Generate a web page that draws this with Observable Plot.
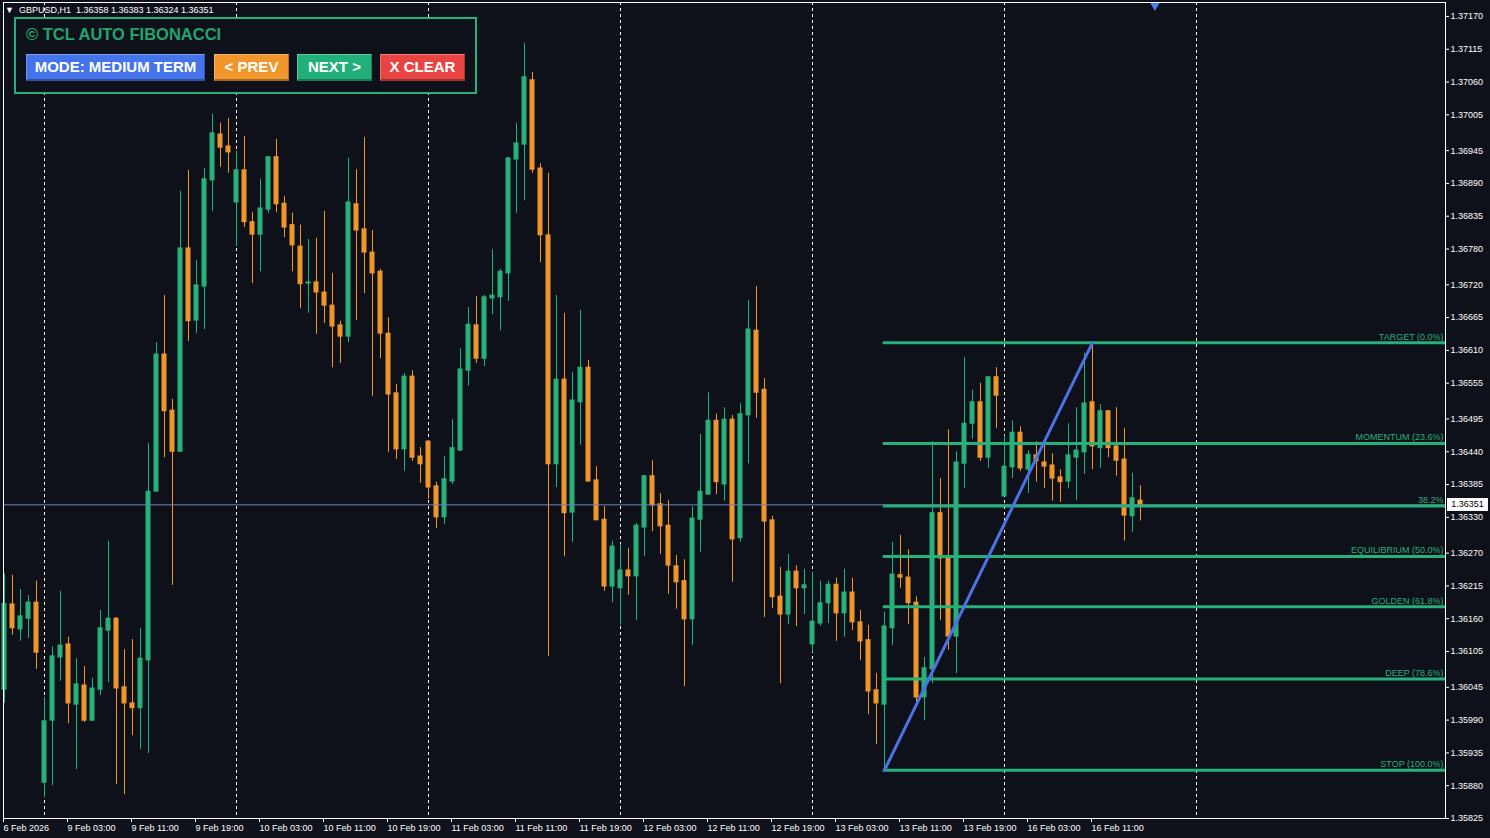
<!DOCTYPE html>
<html><head><meta charset="utf-8">
<script src="https://cdn.jsdelivr.net/npm/d3@7"></script>
<script src="https://cdn.jsdelivr.net/npm/@observablehq/plot@0.6"></script>
<style>
html,body{margin:0;padding:0;background:#0f111a;overflow:hidden}
#wrap{position:relative;width:1490px;height:838px;font-family:"Liberation Sans",Arial,sans-serif}
#wrap svg{position:absolute;left:0;top:0}
.hdr{position:absolute;left:5px;top:4px;color:#fff;font-size:9px;white-space:pre;line-height:13px}
.panel{position:absolute;left:14px;top:17px;width:463px;height:77px;box-sizing:border-box;border:2px solid #26b07a;background:#0f111a}
.ptitle{position:absolute;left:26px;top:25px;color:#23a46f;font-weight:bold;font-size:16.5px;line-height:19px;white-space:nowrap}
.btn{position:absolute;top:54px;height:27px;box-sizing:border-box;color:#fff;font-weight:bold;font-size:15px;line-height:24px;text-align:center;white-space:nowrap;border-top:1px solid rgba(255,255,255,0.3);border-left:1px solid rgba(255,255,255,0.25);border-bottom:2px solid rgba(0,0,0,0.3);border-right:1px solid rgba(0,0,0,0.25)}
.pricebox{position:absolute;left:1447px;width:41px;height:13px;background:#fff;color:#000;font-size:9px;line-height:13px;text-align:center}
</style></head><body><div id="wrap"></div>
<script>
// ---- data (GBPUSD H1, 6 Feb 19:00 .. 16 Feb 17:00) ----
const symbol = "GBPUSD", timeframe = "H1";
const opens = [1.36041,1.36184,1.36142,1.36160,1.36187,1.35885,1.35989,1.36095,1.36117,1.36016,
1.36048,1.35989,1.36041,1.36140,1.36160,1.36045,1.36018,1.36010,1.36090,1.36373,
1.36603,1.36509,1.36440,1.36781,1.36660,1.36717,1.36895,1.36972,1.36952,1.36858,
1.36912,1.36825,1.36804,1.36846,1.36934,1.36856,1.36820,1.36784,1.36722,1.36724,
1.36707,1.36685,1.36652,1.36633,1.36855,1.36813,1.36774,1.36742,1.36638,1.36538,
1.36444,1.36566,1.36432,1.36457,1.36382,1.36330,1.36390,1.36442,1.36576,1.36652,
1.36596,1.36697,1.36699,1.36739,1.36930,1.36955,1.37063,1.36915,1.36803,1.36419,
1.36561,1.36338,1.36523,1.36581,1.36392,1.36326,1.36214,1.36211,1.36241,1.36231,
1.36313,1.36399,1.36352,1.36316,1.36248,1.36223,1.36159,1.36326,1.36368,1.36492,
1.36385,1.36494,1.36295,1.36501,1.36643,1.36544,1.36325,1.36197,1.36167,1.36239,
1.36211,1.36117,1.36152,1.36186,1.36217,1.36169,1.36204,1.36154,1.36124,1.36040,
1.36016,1.36144,1.36233,1.36229,1.36187,1.36028,1.36075,1.36337,1.36264,1.36130,
1.36420,1.36487,1.36523,1.36430,1.36565,1.36365,1.36414,1.36472,1.36410,1.36434,
1.36422,1.36417,1.36397,1.36390,1.36430,1.36439,1.36523,1.36446,1.36508,1.36449,
1.36427,1.36332,1.36358];
const highs = [1.36235,1.36233,1.36209,1.36199,1.36223,1.36028,1.36113,1.36206,1.36129,1.36093,
1.36080,1.36060,1.36174,1.36290,1.36162,1.36108,1.36125,1.36144,1.36454,1.36623,
1.36702,1.36528,1.36877,1.36912,1.36761,1.36915,1.37006,1.36991,1.36999,1.36944,
1.36969,1.36841,1.36897,1.36934,1.36964,1.36868,1.36840,1.36820,1.36796,1.36798,
1.36843,1.36739,1.36659,1.36932,1.36913,1.36967,1.36811,1.36746,1.36665,1.36553,
1.36571,1.36576,1.36447,1.36459,1.36389,1.36432,1.36494,1.36613,1.36682,1.36700,
1.36702,1.36779,1.36746,1.36934,1.36991,1.37125,1.37076,1.36923,1.36907,1.36702,
1.36672,1.36573,1.36677,1.36593,1.36415,1.36348,1.36290,1.36284,1.36278,1.36320,
1.36400,1.36425,1.36370,1.36358,1.36266,1.36259,1.36348,1.36469,1.36539,1.36503,
1.36514,1.36501,1.36521,1.36694,1.36717,1.36563,1.36332,1.36246,1.36268,1.36249,
1.36243,1.36238,1.36223,1.36223,1.36228,1.36243,1.36228,1.36174,1.36149,1.36068,
1.36171,1.36288,1.36300,1.36276,1.36197,1.36095,1.36457,1.36395,1.36477,1.36440,
1.36598,1.36543,1.36555,1.36565,1.36581,1.36467,1.36492,1.36482,1.36442,1.36457,
1.36452,1.36437,1.36410,1.36487,1.36514,1.36605,1.36623,1.36519,1.36509,1.36514,
1.36479,1.36404,1.36383];
const lows = [1.36018,1.36132,1.36122,1.36127,1.36075,1.35860,1.35880,1.36055,1.35984,1.35907,
1.35986,1.35988,1.36031,1.36053,1.35882,1.35865,1.35964,1.35941,1.35934,1.36373,
1.36430,1.36216,1.36439,1.36625,1.36638,1.36645,1.36843,1.36917,1.36907,1.36784,
1.36816,1.36722,1.36742,1.36840,1.36841,1.36799,1.36742,1.36680,1.36672,1.36637,
1.36655,1.36581,1.36588,1.36623,1.36660,1.36705,1.36533,1.36596,1.36439,1.36427,
1.36407,1.36424,1.36387,1.36360,1.36311,1.36318,1.36385,1.36440,1.36550,1.36588,
1.36583,1.36670,1.36643,1.36692,1.36840,1.36861,1.36907,1.36757,1.36097,1.36380,
1.36264,1.36288,1.36451,1.36390,1.36325,1.36206,1.36187,1.36149,1.36199,1.36157,
1.36264,1.36306,1.36268,1.36201,1.36176,1.36046,1.36115,1.36271,1.36368,1.36368,
1.36357,1.36221,1.36288,1.36420,1.36496,1.36162,1.36177,1.36051,1.36150,1.36147,
1.36167,1.36103,1.36147,1.36152,1.36122,1.36129,1.36140,1.36090,1.35999,1.35949,
1.35906,1.36115,1.36211,1.36150,1.36011,1.35989,1.36051,1.36157,1.36107,1.36068,
1.36378,1.36461,1.36424,1.36412,1.36479,1.36365,1.36395,1.36407,1.36370,1.36389,
1.36378,1.36357,1.36355,1.36378,1.36358,1.36402,1.36410,1.36412,1.36430,1.36399,
1.36290,1.36305,1.36324];
const closes = [1.36185,1.36144,1.36164,1.36187,1.36103,1.35988,1.36097,1.36115,1.36018,1.36050,
1.35989,1.36043,1.36144,1.36160,1.36043,1.36018,1.36010,1.36093,1.36373,1.36603,
1.36508,1.36440,1.36781,1.36659,1.36719,1.36897,1.36974,1.36950,1.36942,1.36912,
1.36825,1.36804,1.36848,1.36934,1.36855,1.36816,1.36786,1.36721,1.36724,1.36707,
1.36685,1.36650,1.36633,1.36858,1.36811,1.36774,1.36739,1.36638,1.36536,1.36444,
1.36566,1.36430,1.36419,1.36380,1.36330,1.36394,1.36446,1.36578,1.36653,1.36596,
1.36699,1.36702,1.36742,1.36932,1.36957,1.37068,1.36913,1.36803,1.36419,1.36561,
1.36337,1.36526,1.36581,1.36390,1.36325,1.36214,1.36281,1.36241,1.36231,1.36316,
1.36399,1.36350,1.36315,1.36249,1.36221,1.36159,1.36328,1.36373,1.36492,1.36389,
1.36494,1.36293,1.36503,1.36645,1.36539,1.36323,1.36196,1.36167,1.36239,1.36211,
1.36216,1.36155,1.36186,1.36217,1.36169,1.36204,1.36154,1.36122,1.36038,1.36018,
1.36147,1.36234,1.36229,1.36186,1.36028,1.36077,1.36337,1.36261,1.36130,1.36422,
1.36487,1.36523,1.36430,1.36565,1.36534,1.36415,1.36472,1.36412,1.36435,1.36424,
1.36415,1.36395,1.36389,1.36434,1.36442,1.36521,1.36449,1.36508,1.36446,1.36425,
1.36333,1.36362,1.36351];

// time axis labels (bar index of each label) and day separators
const timeLabelIndex = [0,8,16,24,32,40,48,56,64,72,80,88,96,104,112,120,128,136];
const timeLabels = ["6 Feb 2026","9 Feb 03:00","9 Feb 11:00","9 Feb 19:00","10 Feb 03:00","10 Feb 11:00",
  "10 Feb 19:00","11 Feb 03:00","11 Feb 11:00","11 Feb 19:00","12 Feb 03:00","12 Feb 11:00",
  "12 Feb 19:00","13 Feb 03:00","13 Feb 11:00","13 Feb 19:00","16 Feb 03:00","16 Feb 11:00"];
const dayStartIndex = [5,29,53,77,101,125,149];

// price axis ticks
const priceTicks = [1.37170,1.37115,1.37060,1.37005,1.36945,1.36890,1.36835,1.36780,1.36720,1.36665,
  1.36610,1.36555,1.36495,1.36440,1.36385,1.36330,1.36270,1.36215,1.36160,1.36105,1.36045,
  1.35990,1.35935,1.35880,1.35825];

// auto fibonacci swing
const swingLowIndex = 110, swingLowPrice = 1.35906;
const swingHighIndex = 136, swingHighPrice = 1.36623;
const fibNames = ["TARGET (0.0%)","MOMENTUM (23.6%)","38.2%","EQUILIBRIUM (50.0%)","GOLDEN (61.8%)","DEEP (78.6%)","STOP (100.0%)"];
const fibPrices = [1.36623,1.36454,1.36349,1.362645,1.36180,1.36059,1.35906];

const shiftMarkerIndex = 143.8;
const buttons = [
  {label:"MODE: MEDIUM TERM", color:"#4473ea", left:26, width:179},
  {label:"< PREV", color:"#f0962a", left:214, width:75},
  {label:"NEXT >", color:"#22b07a", left:297, width:75},
  {label:"X CLEAR", color:"#e84444", left:380, width:85}
];

// ---- build ----
const GREEN = "#26b07a", ORANGE = "#f0962a", BLUE = "#4b72e6";
const candles = opens.map((o, i) => ({i, open:o, high:highs[i], low:lows[i], close:closes[i]}));
const col = d => d.close >= d.open ? GREEN : ORANGE;
const fib = fibPrices.map((p, k) => ({price:p, label:fibNames[k]}));
const swing = [{i:swingLowIndex, p:swingLowPrice}, {i:swingHighIndex, p:swingHighPrice}];
const last = candles[candles.length - 1];
const labelMap = new Map(timeLabelIndex.map((d, k) => [d, timeLabels[k]]));

const chart = Plot.plot({
  width:1490, height:838,
  marginLeft:3, marginRight:45, marginTop:2, marginBottom:20,
  style:{background:"#0f111a", color:"#ffffff", fontFamily:"Liberation Sans, Arial, sans-serif", fontSize:"9px", overflow:"visible"},
  x:{type:"linear", domain:[-0.125, 180.125], label:null},
  y:{domain:[1.35825, 1.371934], label:null},
  marks:[
    Plot.ruleX(dayStartIndex, {x:d=>d, stroke:"#ffffff", strokeWidth:1, strokeDasharray:"3,3"}),
    Plot.ruleX(candles, {x:"i", y1:"low", y2:"high", stroke:col, strokeWidth:1}),
    Plot.rect(candles, {x1:d=>d.i-0.3125, x2:d=>d.i+0.3125,
      y1:d=>Math.min(d.open,d.close), y2:d=>Math.max(d.open,d.close),
      fill:col, insetTop:-0.5, insetBottom:-0.5}),
    Plot.ruleY([last.close], {y:d=>d, stroke:"#7080b8", strokeWidth:1}),
    Plot.ruleY(fib, {y:"price", x1:swingLowIndex-0.15, x2:180.125, stroke:GREEN, strokeWidth:3}),
    Plot.line(swing, {x:"i", y:"p", stroke:BLUE, strokeWidth:3}),
    Plot.text(fib, {y:"price", text:"label", frameAnchor:"right", textAnchor:"end", dx:-2, dy:-6, fill:GREEN, fontSize:9}),
    Plot.dot([shiftMarkerIndex], {x:d=>d, frameAnchor:"top", dy:3, symbol:"triangle", rotate:180, r:3.5, fill:"#4b7cf0", stroke:null}),
    Plot.frame({stroke:"#ffffff"}),
    Plot.axisY(priceTicks, {anchor:"right", tickSize:3, tickPadding:2, tickFormat:d=>d.toFixed(5), color:"#ffffff", fontSize:9}),
    Plot.axisX(timeLabelIndex, {anchor:"bottom", tickSize:4, tickPadding:2, tickFormat:d=>labelMap.get(d), textAnchor:"start", dx:-1, color:"#ffffff", fontSize:9})
  ]
});

const wrap = document.getElementById("wrap");
wrap.appendChild(chart);

// header line
const hdr = document.createElement("div");
hdr.className = "hdr";
hdr.textContent = "\u25BC  " + symbol + "," + timeframe + "  " + [last.open, last.high, last.low, last.close].map(v=>v.toFixed(5)).join(" ");
wrap.appendChild(hdr);

// indicator panel
const panel = document.createElement("div");
panel.className = "panel";
wrap.appendChild(panel);
const title = document.createElement("div");
title.className = "ptitle";
title.textContent = "\u00A9 TCL AUTO FIBONACCI";
wrap.appendChild(title);
for (const b of buttons) {
  const el = document.createElement("div");
  el.className = "btn";
  el.style.left = b.left + "px";
  el.style.width = b.width + "px";
  el.style.background = b.color;
  el.textContent = b.label;
  wrap.appendChild(el);
}

// current price box
const py = chart.scale("y").apply(last.close);
const pb = document.createElement("div");
pb.className = "pricebox";
pb.style.top = (py - 6) + "px";
pb.textContent = last.close.toFixed(5);
wrap.appendChild(pb);
</script>
</body></html>
